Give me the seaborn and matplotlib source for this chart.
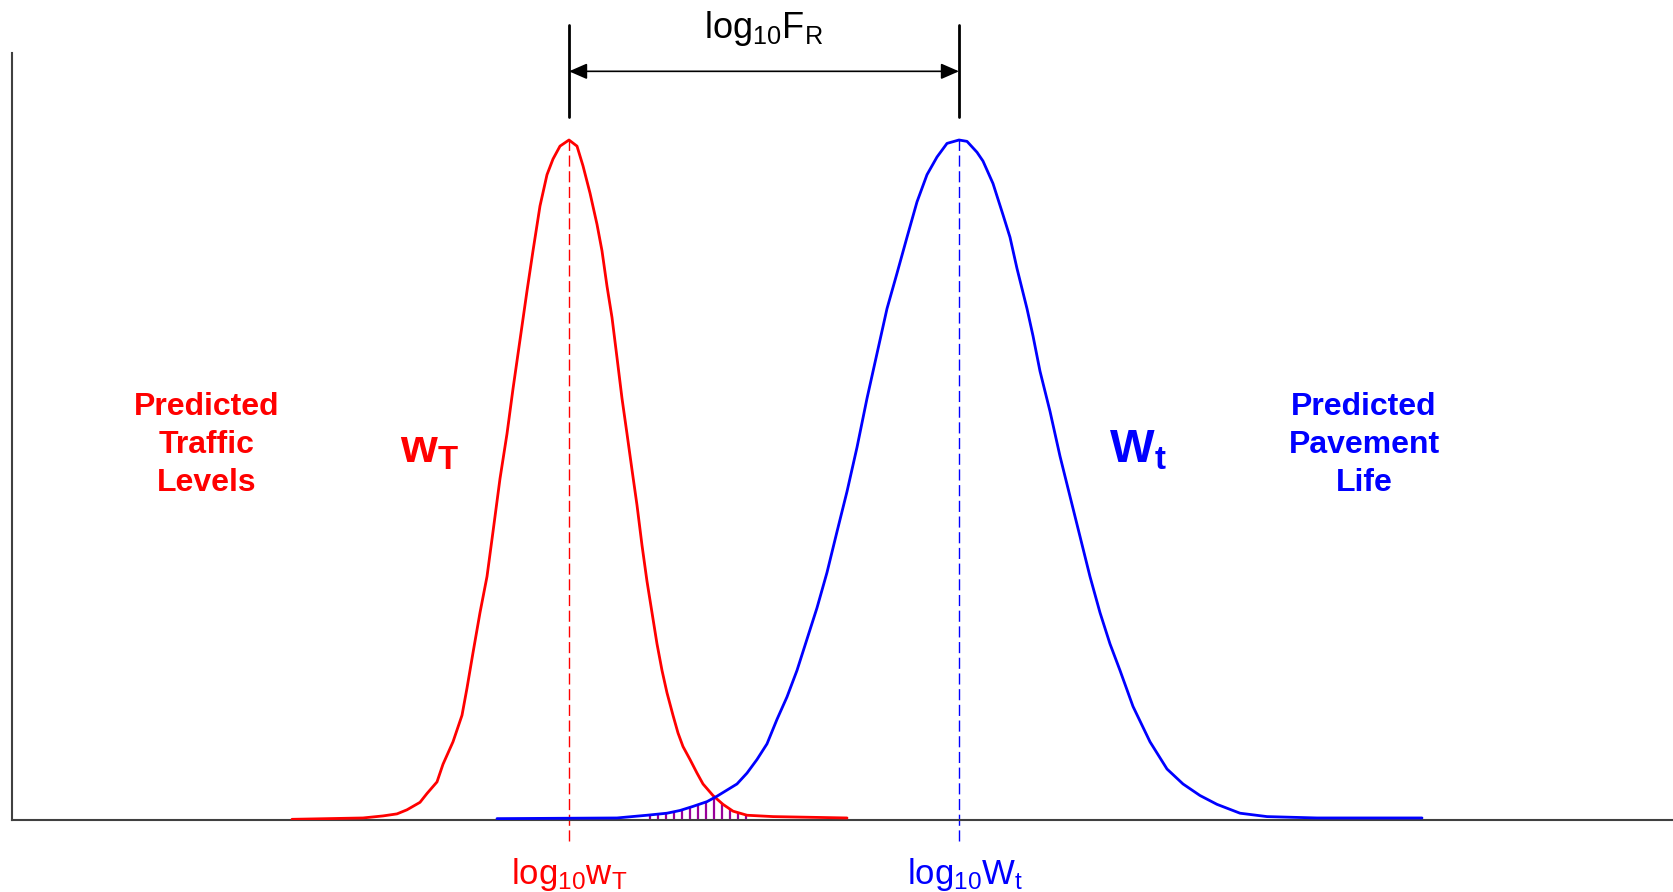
import numpy as np
import pandas as pd
import matplotlib
matplotlib.use("Agg")
import matplotlib.pyplot as plt
import seaborn as sns

# Predicted traffic distribution (log10 scale position, relative density)
traffic_x = [2.80, 3.51, 3.71, 3.85, 3.95, 4.08, 4.15, 4.25, 4.31, 4.41, 4.50, 4.55,
             4.61, 4.68, 4.75, 4.81, 4.88, 4.95, 5.01, 5.08, 5.15, 5.21, 5.28, 5.35,
             5.41, 5.48, 5.57,
             5.65, 5.71, 5.78, 5.85, 5.90, 5.95, 6.00, 6.05, 6.10, 6.15, 6.20, 6.25,
             6.30, 6.35, 6.40, 6.45, 6.50, 6.55, 6.61, 6.66, 6.71, 6.78, 6.85, 6.91,
             7.01, 7.11, 7.21, 7.35, 7.61, 8.35]
traffic_y = [0.001, 0.003, 0.006, 0.009, 0.015, 0.026, 0.039, 0.056, 0.082, 0.115, 0.154, 0.194,
             0.246, 0.305, 0.358, 0.424, 0.502, 0.568, 0.634, 0.706, 0.778, 0.837, 0.903, 0.949,
             0.972, 0.991, 1.000,
             0.991, 0.962, 0.922, 0.876, 0.837, 0.785, 0.739, 0.680, 0.620, 0.568, 0.515, 0.463,
             0.404, 0.351, 0.305, 0.259, 0.220, 0.187, 0.154, 0.128, 0.108, 0.089, 0.069, 0.053,
             0.036, 0.023, 0.013, 0.007, 0.005, 0.003]

# Predicted pavement life distribution
life_x = [4.85, 6.05, 6.35, 6.55, 6.68, 6.81, 6.95, 7.05, 7.15, 7.25, 7.35, 7.45,
          7.55, 7.65, 7.75, 7.85, 7.95, 8.05, 8.15, 8.25, 8.35, 8.45, 8.55, 8.65,
          8.75, 8.85, 8.95, 9.05, 9.15, 9.25, 9.35, 9.47,
          9.55, 9.65, 9.71, 9.81, 9.91, 9.98, 10.05, 10.15, 10.21, 10.28, 10.38, 10.48,
          10.58, 10.68, 10.78, 10.88, 10.98, 11.08, 11.21, 11.38, 11.55, 11.71, 11.88, 12.05,
          12.28, 12.55, 13.05, 14.10]
life_y = [0.002, 0.003, 0.007, 0.010, 0.014, 0.020, 0.027, 0.035, 0.044, 0.053, 0.069, 0.089,
          0.112, 0.148, 0.181, 0.220, 0.266, 0.312, 0.364, 0.424, 0.483, 0.548, 0.620, 0.686,
          0.752, 0.804, 0.857, 0.909, 0.949, 0.975, 0.995, 1.000,
          0.998, 0.982, 0.969, 0.936, 0.890, 0.857, 0.811, 0.752, 0.712, 0.660, 0.601, 0.535,
          0.476, 0.417, 0.358, 0.305, 0.259, 0.220, 0.167, 0.115, 0.075, 0.053, 0.036, 0.023,
          0.010, 0.005, 0.003, 0.003]

traffic_mean = 5.57
life_mean = 9.47

label_traffic = "Predicted\nTraffic\nLevels"
label_life = "Predicted\nPavement\nLife"

RED = "#ff0000"
BLUE = "#0000ff"
PURPLE = "#990099"

sns.set_style("white")
plt.rcParams["font.family"] = ["Liberation Sans", "DejaVu Sans"]

fig = plt.figure(figsize=(16.74, 8.92), dpi=100)
ax = fig.add_axes([12 / 1674, 72 / 892, 1662 / 1674, 767 / 892])

df = pd.concat([
    pd.DataFrame({"x": traffic_x, "y": traffic_y, "dist": "traffic"}),
    pd.DataFrame({"x": life_x, "y": life_y, "dist": "life"}),
])

# Overlap region (probability of failure) shown with vertical hatching
hatch_x = np.arange(6.38, 7.40, 0.08)
hatch_h = np.minimum(np.interp(hatch_x, traffic_x, traffic_y),
                     np.interp(hatch_x, life_x, life_y))
ax.vlines(hatch_x, 0, hatch_h, color=PURPLE, lw=1.6, zorder=1)

sns.lineplot(data=df, x="x", y="y", hue="dist", palette={"traffic": RED, "life": BLUE},
             estimator=None, sort=False, lw=2.0, legend=False, ax=ax, zorder=3)

# Mean markers
for m, c in [(traffic_mean, RED), (life_mean, BLUE)]:
    ax.plot([m, m], [-0.031, 1.0], color=c, lw=1.0, dashes=(8, 3.3), clip_on=False, zorder=2)

ax.set_xlim(0, 16.62)
ax.set_ylim(0, 767 / 680)
ax.set_xticks([])
ax.set_yticks([])
ax.set_xlabel("")
ax.set_ylabel("")
sns.despine(ax=ax)
for s in ("left", "bottom"):
    ax.spines[s].set_color("#404040")
    ax.spines[s].set_linewidth(1.5)

# Reliability factor span above the peaks
for m in (traffic_mean, life_mean):
    ax.plot([m, m], [1.034, 1.169], color="black", lw=2.0, clip_on=False)
ax.annotate("", xy=(life_mean, 1.101), xytext=(traffic_mean, 1.101),
            arrowprops=dict(arrowstyle="<|-|>,head_length=0.55,head_width=0.24",
                            mutation_scale=20, color="black", lw=1.2,
                            shrinkA=0, shrinkB=0),
            annotation_clip=False)
ax.text((traffic_mean + life_mean) / 2, 1.15, r"$\mathregular{log_{10}F_R}$",
        ha="center", va="baseline", fontsize=26, color="black", clip_on=False)

# Labels under the axis
ax.text(traffic_mean, -0.094, r"$\mathregular{log_{10}w_T}$", ha="center", va="baseline",
        fontsize=25, color=RED, clip_on=False)
ax.text(life_mean + 0.06, -0.094, r"$\mathregular{log_{10}W_t}$", ha="center", va="baseline",
        fontsize=25, color=BLUE, clip_on=False)

# Curve names
ax.text(4.18, (820 - 462) / 680, r"$\mathregular{w_T}$", ha="center", va="baseline",
        fontsize=34, fontweight="bold", color=RED)
ax.text(11.26, (820 - 463) / 680, r"$\mathregular{W_t}$", ha="center", va="baseline",
        fontsize=34, fontweight="bold", color=BLUE)

# Descriptive labels
ax.text(1.95, (820 - 445) / 680, label_traffic, ha="center", va="center",
        fontsize=23, fontweight="bold", color=RED, linespacing=1.36)
ax.text(13.52, (820 - 445) / 680, label_life, ha="center", va="center",
        fontsize=23, fontweight="bold", color=BLUE, linespacing=1.36)

fig.savefig("out.png", dpi=100)
